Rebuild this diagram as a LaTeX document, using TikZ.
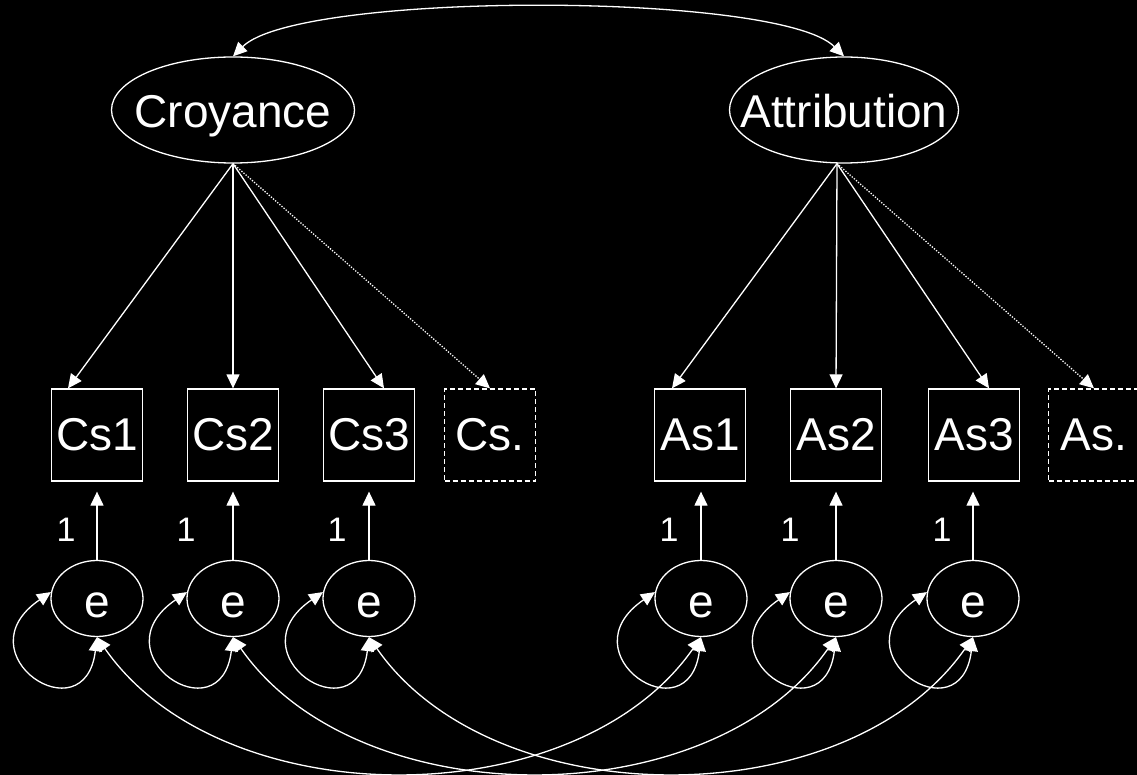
\documentclass[tikz,border=0pt]{standalone}
\usepackage{fontspec}
\setmainfont{Liberation Sans}
\usetikzlibrary{arrows.meta,shapes.geometric,calc}
\begin{document}
\begin{tikzpicture}[x=1pt,y=-1pt,
  big/.style={text=white,inner sep=0pt,font=\fontsize{46}{50}\selectfont},
  lat/.style={draw=white,line width=1.3pt,ellipse,inner sep=0pt,minimum height=106pt},
  obs/.style={draw=white,line width=1.3pt,rectangle,minimum width=91pt,minimum height=92pt,inner sep=0pt,text=white,font=\fontsize{46}{50}\selectfont},
  obsd/.style={obs,dash pattern=on 5pt off 3pt},
  err/.style={draw=white,line width=1.3pt,ellipse,minimum width=92pt,minimum height=76pt,inner sep=0pt},
  lbl/.style={text=white,inner sep=0pt,font=\fontsize{34}{38}\selectfont},
  arr/.style={draw=white,line width=1.3pt,-{Triangle[length=14pt,width=13pt]}},
  darr/.style={draw=white,line width=1.3pt,{Triangle[length=14pt,width=13pt]}-{Triangle[length=14pt,width=13pt]}},
  dotarr/.style={arr,dash pattern=on 1.3pt off 1.5pt}
]
\fill[black] (0,0) rectangle (1137,775);
\useasboundingbox (0,0) rectangle (1137,775);

% latent variables
\node[lat,minimum width=243pt] (cro) at (233,110) {};
\node[big,anchor=base] (crot) at (233,128) {Croyance};
\node[lat,minimum width=229pt] (att) at (844,110) {};
\node[big,anchor=base] (attt) at (844,128) {Attribution};

% observed
\node[obs] (cs1) at (97,435) {Cs1};
\node[obs] (cs2) at (233,435) {Cs2};
\node[obs] (cs3) at (369,435) {Cs3};
\node[obsd] (csd) at (490,435) {Cs.};
\node[obs] (as1) at (700,435) {As1};
\node[obs] (as2) at (836,435) {As2};
\node[obs] (as3) at (974,435) {As3};
\node[obsd] (asd) at (1094,435) {As.};

% errors
\foreach \n/\x in {e1/97,e2/233,e3/369,e4/701,e5/836,e6/973}{
  \node[err] (\n) at (\x,598.5) {};
  \node[big,anchor=base] at (\x,617) {e};
}

% labels
\node[lbl] (l1) at (66,530) {1};
\node[lbl] (l2) at (186,530) {1};
\node[lbl] (l3) at (337,530) {1};
\node[lbl] (l4) at (669,530) {1};
\node[lbl] (l5) at (790,530) {1};
\node[lbl] (l6) at (942,530) {1};

% covariance between latents
\draw[darr] (cro.north) .. controls +(65,-65) and +(-65,-65) .. (att.north);

% loadings
\draw[arr] (cro.south) -- ($(cs1.north)+(-29,0)$);
\draw[arr] (cro.south) -- (cs2.north);
\draw[arr] (cro.south) -- ($(cs3.north)+(15,0)$);
\draw[dotarr] (cro.south) -- (csd.north);
\coordinate (ab) at ($(att.south)+(-7,0)$);
\draw[arr] (ab) -- ($(as1.north)+(-28,0)$);
\draw[arr] (ab) -- (as2.north);
\draw[arr] (ab) -- ($(as3.north)+(15,0)$);
\draw[dotarr] (ab) -- (asd.north);

% error arrows
\draw[arr] (e1.north) -- ($(e1.north |- cs1.south)+(0,10)$);
\draw[arr] (e2.north) -- ($(e2.north |- cs2.south)+(0,10)$);
\draw[arr] (e3.north) -- ($(e3.north |- cs3.south)+(0,10)$);
\draw[arr] (e4.north) -- ($(e4.north |- as1.south)+(0,10)$);
\draw[arr] (e5.north) -- ($(e5.north |- as2.south)+(0,10)$);
\draw[arr] (e6.north) -- ($(e6.north |- as3.south)+(0,10)$);

% variances (self loops)
\foreach \n in {e1,e2,e3,e4,e5,e6}{
  \draw[darr] (\n.south) .. controls +(-12,100) and +(-91,62) .. (\n.172);
}

% error covariances
\draw[darr] (e1.south) .. controls +(125,180) and +(-125,180) .. (e4.south);
\draw[darr] (e2.south) .. controls +(125,180) and +(-125,180) .. (e5.south);
\draw[darr] (e3.south) .. controls +(125,180) and +(-125,180) .. (e6.south);
\end{tikzpicture}
\end{document}
